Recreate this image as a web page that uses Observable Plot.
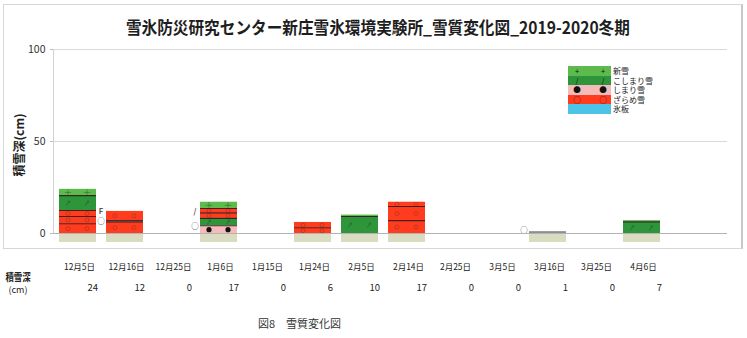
<!DOCTYPE html>
<html>
<head>
<meta charset="utf-8">
<script src="https://cdn.jsdelivr.net/npm/d3@7"></script>
<script src="https://cdn.jsdelivr.net/npm/@observablehq/plot@0.6"></script>
<style>
  html, body { margin: 0; padding: 0; background: #fff; }
  body { font-family: "Noto Sans CJK JP", "Noto Sans", sans-serif; color: #222; }
  #wrap { position: relative; width: 747px; height: 338px; overflow: hidden; }
  #frame { position: absolute; left: 3px; top: 4px; width: 737px; height: 243px;
           border: 1px solid #d6d6d6; border-right: 2px solid #c9c9c9; }
  #title { position: absolute; left: 4px; top: 15px; width: 747px; text-align: center;
           font-weight: bold; font-size: 17px; line-height: 24px; color: #1e1e1e; white-space: nowrap; }
  #title span { display: inline-block; transform: scaleX(0.92); }
  #ylabel { position: absolute; left: 18px; top: 145px; transform: translate(-50%, -50%) rotate(-90deg);
            font-weight: bold; font-size: 12px; white-space: nowrap; color: #222; }
  #chart { position: absolute; left: 0; top: 40px; }
  #legend { position: absolute; left: 568px; top: 66px; }
  .lrow { position: relative; height: 9.6px; width: 90px; }
  .sw { position: absolute; left: 0; top: 0; width: 43px; height: 9.6px; }
  .sym { position: absolute; top: -1px; font-size: 7.5px; line-height: 11px; color: #111; width: 10px; text-align: center; }
  .lt { position: absolute; left: 45px; top: 0; font-size: 8px; line-height: 9.6px; color: #222; white-space: nowrap; }
  #rowhead { position: absolute; left: 18px; top: 269px; transform: translateX(-50%); text-align: center; }
  #rowhead .a { font-size: 10.5px; font-weight: bold; line-height: 15px; display:block; transform: scaleX(0.8); }
  #rowhead .b { font-size: 9px; line-height: 11px; display:block; }
  #caption { position: absolute; left: 258px; top: 315px; font-size: 11px; color: #333; white-space: nowrap; }
</style>
</head>
<body>
<div id="wrap">
  <div id="frame"></div>
  <div id="title"><span>雪氷防災研究センター新庄雪氷環境実験所_雪質変化図_2019-2020冬期</span></div>
  <div id="ylabel">積雪深(cm)</div>
  <div id="chart"></div>
  <div id="legend"></div>
  <div id="rowhead"><span class="a">積雪深</span><span class="b">(cm)</span></div>
  <div id="caption">図8　雪質変化図</div>
</div>
<script>
// ---- data ----
const dates = ["12月5日","12月16日","12月25日","1月6日","1月15日","1月24日","2月5日","2月14日","2月25日","3月5日","3月16日","3月25日","4月6日"];
const depths = [24, 12, 0, 17, 0, 6, 10, 17, 0, 0, 1, 0, 7];
const yTicks = [0, 50, 100];
const types = ["新雪", "こしまり雪", "しまり雪", "ざらめ雪", "氷板"];
const typeColors = ["#5dba4c", "#2f953a", "#f5baba", "#ff3c1e", "#4cc4e8"];
const typeSymbols = ["+", "/", "●", "○", ""];
const thinType = "薄層";
const thinColor = "#8e8e8e";
// snow layers: [date, bottom (cm), top (cm), type]
const layers = [
  ["12月5日", 0, 5.3, "ざらめ雪"],
  ["12月5日", 5.3, 9.2, "ざらめ雪"],
  ["12月5日", 9.2, 12.5, "ざらめ雪"],
  ["12月5日", 12.5, 20.6, "こしまり雪"],
  ["12月5日", 20.6, 24, "新雪"],
  ["12月16日", 0, 6.3, "ざらめ雪"],
  ["12月16日", 6.3, 7.0, "しまり雪"],
  ["12月16日", 7.0, 12, "ざらめ雪"],
  ["1月6日", 0, 4.2, "しまり雪"],
  ["1月6日", 4.2, 8.2, "こしまり雪"],
  ["1月6日", 8.2, 11.2, "ざらめ雪"],
  ["1月6日", 11.2, 13.6, "ざらめ雪"],
  ["1月6日", 13.6, 17, "新雪"],
  ["1月24日", 0, 3.1, "ざらめ雪"],
  ["1月24日", 3.1, 6, "ざらめ雪"],
  ["2月5日", 0, 9.2, "こしまり雪"],
  ["2月5日", 9.2, 10, "新雪"],
  ["2月14日", 0, 7, "ざらめ雪"],
  ["2月14日", 7, 14.7, "ざらめ雪"],
  ["2月14日", 14.7, 17, "ざらめ雪"],
  ["3月16日", 0, 1, "薄層"],
  ["4月6日", 0, 6.3, "こしまり雪"],
  ["4月6日", 6.3, 7, "新雪"]
];
// symbols written beside bars: [date, height (cm), symbol]
const sideMarks = [
  ["12月16日", 12.0, "F"],
  ["12月16日", 6.4, "○"],
  ["1月6日", 12.1, "/"],
  ["1月6日", 3.8, "○"],
  ["3月16日", 1.6, "○"]
];
const floorDepth = 4.9; // pale floor under each bar (cm below 0)

// ---- derived tables ----
const layerRows = layers.map(([date, y1, y2, type]) => ({date, y1, y2, type, mid: (y1 + y2) / 2,
  sym: types.includes(type) ? typeSymbols[types.indexOf(type)] : ""}));
const boundaryRows = layerRows.filter(d => d.y1 > 0);
const symbolRows = layerRows.filter(d => d.sym && (d.y2 - d.y1) >= 2);
const barRows = dates.map((date, i) => ({date, depth: depths[i]})).filter(d => d.depth > 0);
const sideRows = sideMarks.map(([date, y, s]) => ({date, y, s}));
const tableRows = dates.map((date, i) => ({date, depth: depths[i]}));

const font = "'Noto Sans CJK JP', 'Noto Sans', sans-serif";
const offsets = [-10, 9];
const ofSym = s => symbolRows.filter(d => d.sym === s);

const symbolMarks = offsets.flatMap(dx => [
  Plot.dot(ofSym("+"), {x: "date", y: "mid", dx, symbol: "plus", r: 2.2, stroke: "#222", strokeOpacity: 0.3, strokeWidth: 1}),
  Plot.vector(ofSym("/"), {x: "date", y: "mid", dx, rotate: 35, length: 5, anchor: "middle", stroke: "#222", strokeOpacity: 0.3, strokeWidth: 1}),
  Plot.dot(ofSym("●"), {x: "date", y: "mid", dx, r: 2.6, fill: "#111", stroke: "none"}),
  Plot.dot(ofSym("○"), {x: "date", y: "mid", dx, r: 2, fill: "none", stroke: "#222", strokeOpacity: 0.25, strokeWidth: 1})
]);

const chart = Plot.plot({
  width: 747,
  height: 260,
  marginLeft: 53,
  marginRight: 20,
  marginTop: 9,
  marginBottom: 67,
  style: {fontFamily: font, background: "transparent", overflow: "visible"},
  x: {domain: dates, range: [50.77, 667.73], paddingInner: 0.22, paddingOuter: 0.11, axis: null},
  y: {domain: [0, 100], axis: null},
  color: {domain: [...types, thinType], range: [...typeColors, thinColor]},
  marks: [
    Plot.ruleY(yTicks.filter(v => v > 0), {stroke: "#d9d9d9"}),
    Plot.frame({anchor: "left", stroke: "#d2d2d2"}),
    Plot.axisY({ticks: yTicks, tickSize: 3, tickPadding: 5, fontSize: 10.5, stroke: "#bdbdbd", fill: "#333", label: null}),
    Plot.rectY(barRows, {x: "date", y1: 0, y2: -floorDepth, fill: "#dadcc2"}),
    Plot.rectY(layerRows, {x: "date", y1: "y1", y2: "y2", fill: "type"}),
    Plot.tickY(boundaryRows, {x: "date", y: "y1", stroke: "#2a1717", strokeWidth: 1.1, strokeOpacity: 0.85}),
    ...symbolMarks,
    Plot.text(sideRows, {x: "date", y: "y", text: "s", dx: -24, fontSize: 7.5, fontWeight: "bold", fill: "#555"}),
    Plot.ruleY([0], {stroke: "#b3b3b3"}),
    Plot.text(tableRows, {x: "date", text: "date", frameAnchor: "bottom", dy: 36, dx: 1.5, fontSize: 8.5, fill: "#222"}),
    Plot.text(tableRows, {x: "date", text: d => String(d.depth), frameAnchor: "bottom", dy: 57, dx: 20,
      textAnchor: "end", fontSize: 9.5, fill: "#222"})
  ]
});
document.getElementById("chart").appendChild(chart);

// ---- legend ----
const legend = document.getElementById("legend");
types.forEach((t, i) => {
  const row = document.createElement("div");
  row.className = "lrow";
  const sw = document.createElement("div");
  sw.className = "sw";
  sw.style.background = typeColors[i];
  row.appendChild(sw);
  if (typeSymbols[i]) {
    [4, 30].forEach(left => {
      const s = document.createElement("div");
      s.className = "sym";
      s.style.left = left + "px";
      s.textContent = typeSymbols[i];
      row.appendChild(s);
    });
  }
  const lt = document.createElement("div");
  lt.className = "lt";
  lt.textContent = t;
  row.appendChild(lt);
  legend.appendChild(row);
});
</script>
</body>
</html>
